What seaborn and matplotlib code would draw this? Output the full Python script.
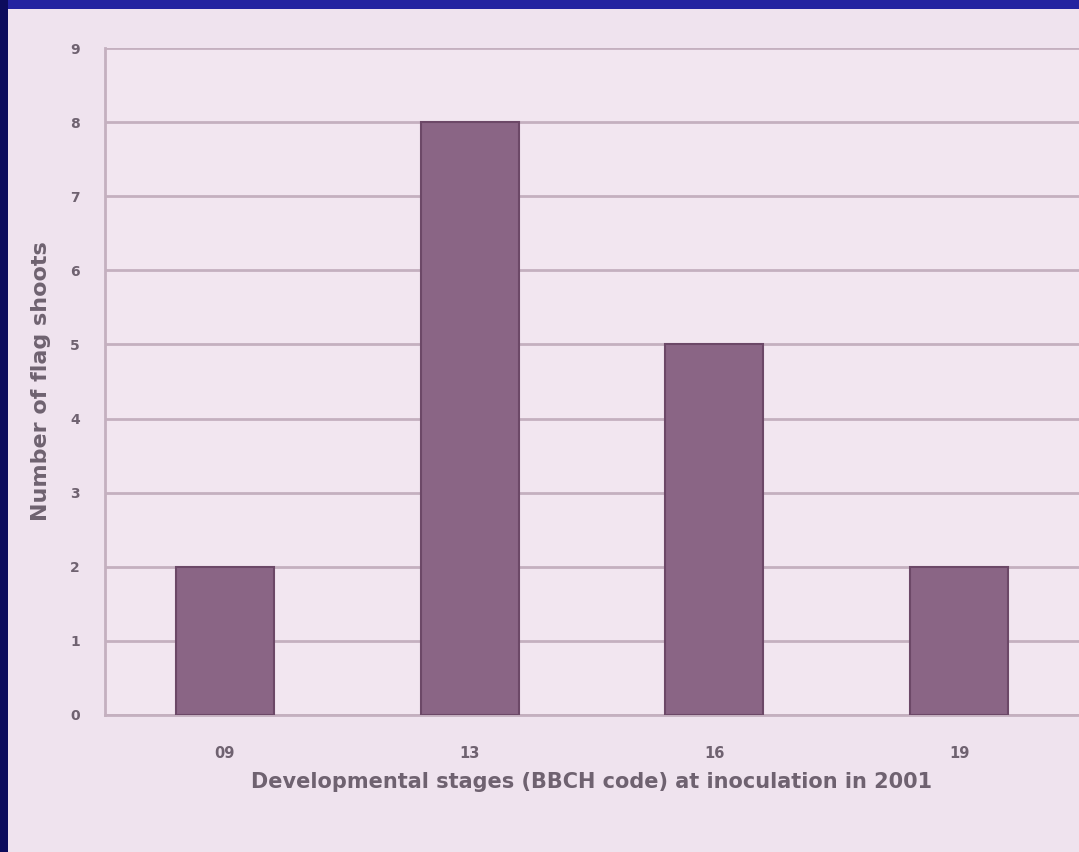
import matplotlib
matplotlib.use("Agg")
import matplotlib.pyplot as plt
import seaborn as sns
import pandas as pd
from matplotlib.patches import Rectangle

stages = ["09", "13", "16", "19"]
flag_shoots = [2, 8, 5, 2]
y_ticks = [0, 1, 2, 3, 4, 5, 6, 7, 8, 9]

df = pd.DataFrame({"stage": stages, "count": flag_shoots})

sns.set_theme(style="white")
plt.rcParams["font.family"] = ["DejaVu Sans"]

bg = "#efe3ee"
text_c = "#6f6270"
grid_c = "#c4b0bf"

fig = plt.figure(figsize=(10.79, 8.52), dpi=100, facecolor=bg)
ax = fig.add_axes([105 / 1079, 1 - 715 / 852, 1 - 105 / 1079, (715 - 48) / 852])
ax.set_facecolor("#f2e6f0")

sns.barplot(data=df, x="stage", y="count", order=stages, color="#8a6585",
            width=0.4, edgecolor="#6c4867", linewidth=1.5, saturation=1,
            ax=ax, zorder=3)

ax.set_xlim(-0.49, 3.49)
ax.set_ylim(0, 9)
ax.set_yticks(y_ticks)
ax.set_yticklabels([str(v) for v in y_ticks], fontsize=10, color=text_c, fontweight="bold")
ax.set_xticks(range(len(stages)))
ax.set_xticklabels(stages, fontsize=10.5, color=text_c, fontweight="bold")
ax.set_xticks([0.5, 1.5, 2.5], minor=True)
ax.tick_params(axis="x", which="major", length=0, pad=22)
ax.tick_params(axis="x", which="minor", length=5, color=grid_c, direction="out", width=1.5)
ax.tick_params(axis="y", which="major", length=8, color=grid_c, direction="out", width=1.5, pad=10)
ax.yaxis.grid(True, color=grid_c, linewidth=2, zorder=0)
ax.set_axisbelow(True)

for s in ["top", "right"]:
    ax.spines[s].set_visible(False)
ax.spines["left"].set_color(grid_c)
ax.spines["left"].set_linewidth(2)
ax.spines["bottom"].set_color(grid_c)
ax.spines["bottom"].set_linewidth(2)

ax.set_xlabel("Developmental stages (BBCH code) at inoculation in 2001",
              fontsize=15, color=text_c, labelpad=8, fontweight="bold")
ax.set_ylabel("Number of flag shoots", fontsize=16, color=text_c, labelpad=14,
              fontweight="bold")

# slide frame (dark blue bands at top and left)
fig.patches.append(Rectangle((0, 1 - 9 / 852), 1, 9 / 852, transform=fig.transFigure,
                             facecolor="#2424a0", edgecolor="none", zorder=10))
fig.patches.append(Rectangle((0, 0), 8 / 1079, 1, transform=fig.transFigure,
                             facecolor="#0c0c5c", edgecolor="none", zorder=10))

fig.savefig("out.png", dpi=100, facecolor=bg)
